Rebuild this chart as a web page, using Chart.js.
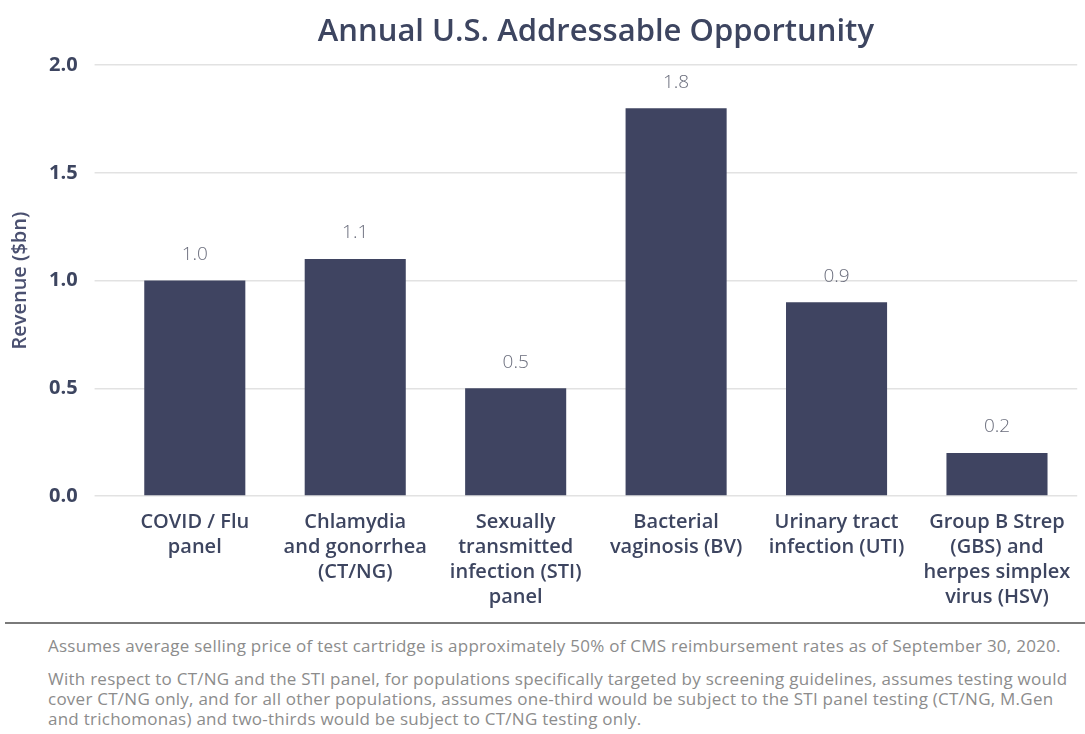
<!DOCTYPE html>
<html>
<head>
<meta charset="utf-8">
<script src="https://cdn.jsdelivr.net/npm/chart.js@4.4.0/dist/chart.umd.min.js"></script>
<style>
  body { margin: 0; background: #fff; font-family: "Open Sans", sans-serif; }
  #wrap { position: relative; width: 1085px; height: 615px; }
  .rule { margin: 7px 0 0 5px; border-top: 2px solid #7a7a7a; }
  .notes { padding: 12px 0 0 48px; color: #8c8c8c; font-size: 17px; letter-spacing: 0.25px; line-height: 20px; white-space: nowrap; }
  .notes p { margin: 0 0 13px 0; }
</style>
</head>
<body>
<div id="wrap"><canvas id="chart"></canvas></div>
<div class="rule"></div>
<div class="notes">
  <p>Assumes average selling price of test cartridge is approximately 50% of CMS reimbursement rates as of September 30, 2020.</p>
  <p>With respect to CT/NG and the STI panel, for populations specifically targeted by screening guidelines, assumes testing would<br>cover CT/NG only, and for all other populations, assumes one-third would be subject to the STI panel testing (CT/NG, M.Gen<br>and trichomonas) and two-thirds would be subject to CT/NG testing only.</p>
</div>
<script>
const categories = [
  ['COVID / Flu', 'panel'],
  ['Chlamydia', 'and gonorrhea', '(CT/NG)'],
  ['Sexually', 'transmitted', 'infection (STI)', 'panel'],
  ['Bacterial', 'vaginosis (BV)'],
  ['Urinary tract', 'infection (UTI)'],
  ['Group B Strep', '(GBS) and', 'herpes simplex', 'virus (HSV)']
];
const revenue = [1.0, 1.1, 0.5, 1.8, 0.9, 0.2];
const yTicks = [0, 0.5, 1.0, 1.5, 2.0];

const navy = '#3f4461';
const textNavy = '#3d4560';

// draws the value above each bar
const valueLabels = {
  id: 'valueLabels',
  afterDatasetsDraw(chart) {
    const ctx = chart.ctx;
    const meta = chart.getDatasetMeta(0);
    ctx.save();
    ctx.font = '300 19px "Open Sans"';
    ctx.fillStyle = '#6a6d7c';
    ctx.textAlign = 'center';
    ctx.textBaseline = 'middle';
    meta.data.forEach((bar, i) => {
      ctx.fillText(revenue[i].toFixed(1), bar.x, bar.y - 26);
    });
    ctx.restore();
  }
};

const ctx = document.getElementById('chart').getContext('2d');
new Chart(ctx, {
  type: 'bar',
  data: {
    labels: categories,
    datasets: [{
      label: 'Revenue',
      data: revenue,
      backgroundColor: navy,
      borderWidth: 0,
      categoryPercentage: 1,
      barPercentage: 0.63
    }]
  },
  options: {
    responsive: true,
    maintainAspectRatio: false,
    animation: false,
    layout: { padding: { left: 0, right: 0, top: 0, bottom: -9 } },
    plugins: {
      legend: { display: false },
      tooltip: { enabled: false },
      title: {
        display: true,
        text: 'Annual U.S. Addressable Opportunity',
        fullSize: false,
        color: textNavy,
        font: { family: 'Open Sans', size: 31, weight: '600' },
        padding: { top: 14, bottom: 14 }
      }
    },
    scales: {
      x: {
        grid: { display: false, drawTicks: false },
        border: { display: false },
        ticks: {
          color: textNavy,
          font: { family: 'Open Sans', size: 20, weight: '600', lineHeight: '25px' },
          padding: 14,
          maxRotation: 0,
          autoSkip: false
        }
      },
      y: {
        min: 0,
        max: 2,
        afterBuildTicks(scale) {
          scale.ticks = yTicks.map(v => ({ value: v }));
        },
        grid: { color: '#e2e2e2', lineWidth: 1.5, tickLength: 20 },
        border: { display: false },
        ticks: {
          color: textNavy,
          font: { family: 'Open Sans', size: 20, weight: 'bold' },
          padding: 17,
          callback: v => v.toFixed(1)
        },
        title: {
          display: true,
          text: 'Revenue ($bn)',
          color: '#4a5070',
          font: { family: 'Open Sans', size: 20, weight: '600' },
          padding: { top: 8, bottom: 0 }
        }
      }
    }
  },
  plugins: [valueLabels]
});
</script>
</body>
</html>
